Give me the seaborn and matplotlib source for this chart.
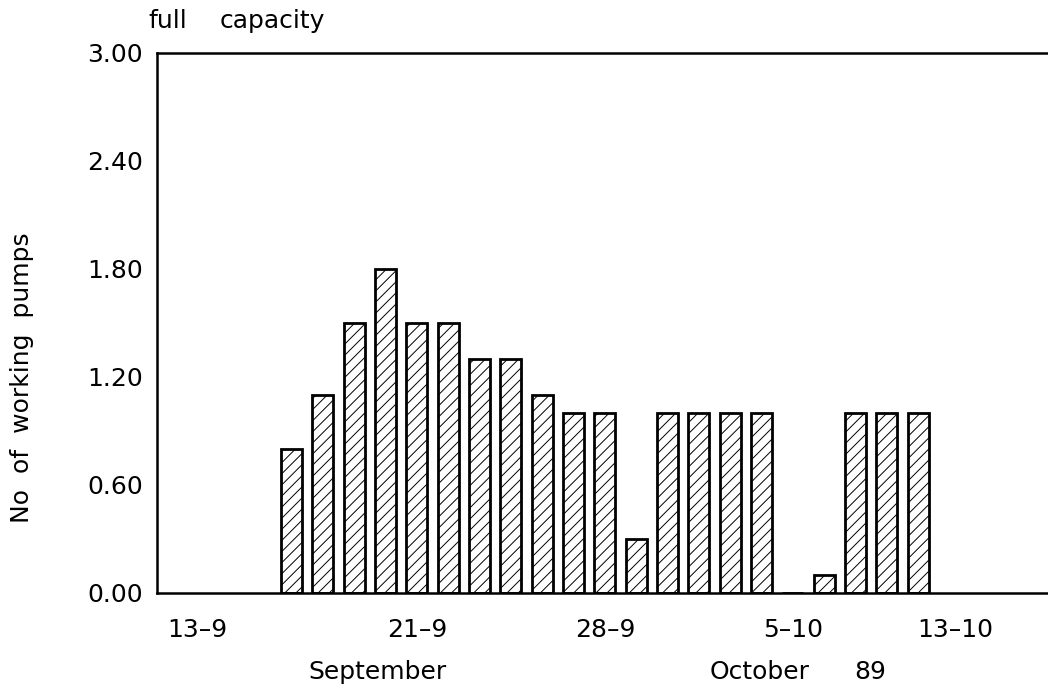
import matplotlib
matplotlib.use("Agg")
import matplotlib.pyplot as plt
import seaborn as sns
import numpy as np

# ---- data ----
day_index = list(range(21))
pumps = [0.8, 1.1, 1.5, 1.8, 1.5, 1.5, 1.3, 1.3, 1.1, 1.0, 1.0,
         0.3, 1.0, 1.0, 1.0, 1.0, 0.0, 0.1, 1.0, 1.0, 1.0]
date_tick_pos = [-3.0, 4.0, 10.0, 16.0, 21.2]
date_tick_labels = ["13\u20139", "21\u20139", "28\u20139", "5\u201310", "13\u201310"]
y_ticks = [0.0, 0.6, 1.2, 1.8, 2.4, 3.0]

sns.set_style("white")
plt.rcParams["font.family"] = ["DejaVu Sans"]
plt.rcParams["text.color"] = "black"
plt.rcParams["hatch.linewidth"] = 0.7
plt.rcParams["hatch.color"] = "#333333"

FS = 18

fig = plt.figure(figsize=(10.48, 6.92), dpi=100)
ax = fig.add_axes([157 / 1048, 1 - 593 / 692, 1 - 157 / 1048, (593 - 53) / 692])

sns.barplot(x=day_index, y=pumps, native_scale=True, width=0.67,
            color="white", saturation=1, edgecolor="black", linewidth=2,
            hatch="///", errorbar=None, ax=ax)

ax.set_xlim(-4.3, 24.15)
ax.set_ylim(0, 3.0)
ax.set_yticks(y_ticks)
ax.set_yticklabels([f"{v:.2f}" for v in y_ticks], fontsize=FS)
ax.set_xticks(date_tick_pos)
ax.set_xticklabels(date_tick_labels, fontsize=FS)
ax.tick_params(axis="y", direction="in", length=10, width=1.5, pad=10,
               colors="black", labelcolor="black")
ax.tick_params(axis="x", length=0, pad=18, colors="black", labelcolor="black")
ax.set_xlabel("")
ax.set_ylabel("")

for side in ["left", "bottom", "top"]:
    ax.spines[side].set_visible(True)
    ax.spines[side].set_linewidth(1.8)
    ax.spines[side].set_color("black")
ax.spines["right"].set_visible(False)

fig.text(22 / 1048, 1 - 378 / 692, "No  of  working  pumps", rotation=90,
         ha="center", va="center", fontsize=FS)
fig.text(148 / 1048, 1 - 28 / 692, "full", ha="left", va="baseline", fontsize=FS)
fig.text(220 / 1048, 1 - 28 / 692, "capacity", ha="left", va="baseline", fontsize=FS)
fig.text(378 / 1048, 1 - 672 / 692, "September", ha="center", va="center", fontsize=FS)
fig.text(760 / 1048, 1 - 672 / 692, "October", ha="center", va="center", fontsize=FS)
fig.text(870 / 1048, 1 - 672 / 692, "89", ha="center", va="center", fontsize=FS)

fig.savefig("out.png", dpi=100)
